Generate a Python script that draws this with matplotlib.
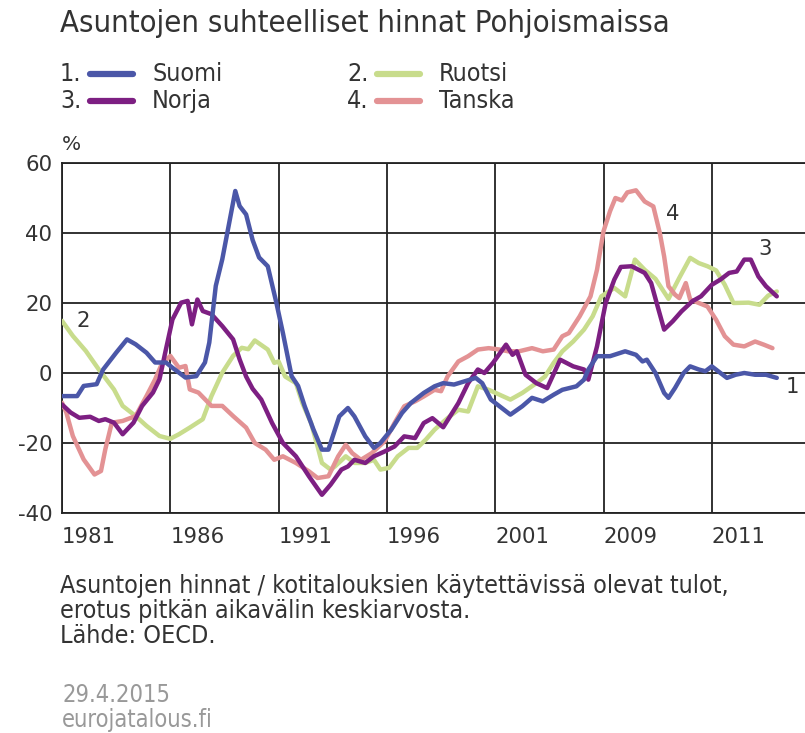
import matplotlib.pyplot as plt
from matplotlib.lines import Line2D

# Suomi (1)
fi_year = [1981.0, 1981.7, 1982.0, 1982.6, 1982.9, 1983.5, 1984.0, 1984.4, 1984.9, 1985.3,
           1985.8, 1986.1, 1986.7, 1987.2, 1987.6, 1987.8, 1988.1, 1988.4, 1989.0, 1989.2,
           1989.5, 1989.8, 1990.1, 1990.5, 1990.9, 1991.2, 1991.6, 1991.9, 1992.2, 1992.6,
           1993.0, 1993.3, 1993.8, 1994.2, 1994.5, 1995.0, 1995.4, 1995.7, 1996.2, 1996.7,
           1997.1, 1997.7, 1998.2, 1998.6, 1999.1, 2000.1, 2000.4, 2000.8, 2001.7, 2002.25,
           2002.7, 2003.2, 2003.7, 2004.1, 2004.75, 2005.1, 2005.3, 2005.7, 2006.3, 2007.0,
           2007.5, 2007.8, 2008.0, 2008.4, 2008.8, 2009.0, 2009.3, 2009.7, 2010.0, 2010.4,
           2010.7, 2011.0, 2011.4, 2011.7, 2012.1, 2012.5, 2013.0, 2013.5, 2014.0]
fi_val = [-6.6, -6.6, -3.7, -3.2, 1.0, 5.8, 9.6, 8.2, 5.8, 3.0,
          3.0, 1.5, -1.3, -0.9, 3.0, 8.7, 24.9, 32.5, 52.0, 47.7,
          45.3, 38.0, 33.0, 30.5, 20.0, 11.4, -0.9, -3.7, -9.4, -16.0,
          -21.9, -21.9, -12.4, -10.0, -12.4, -18.1, -21.4, -20.0, -16.2, -11.4,
          -8.6, -5.7, -3.8, -2.9, -3.3, -1.4, -2.9, -7.6, -11.9, -9.5,
          -7.1, -8.1, -6.2, -4.8, -3.8, -1.9, 1.0, 4.8, 4.8, 6.2,
          5.2, 3.3, 3.8, 0.0, -5.7, -7.1, -4.3, 0.0, 1.9, 1.0,
          0.5, 1.9, 0.0, -1.4, -0.5, 0.0, -0.5, -0.5, -1.4]

# Ruotsi (2)
se_year = [1981.0, 1981.5, 1982.1, 1982.7, 1983.4, 1983.8, 1984.4, 1984.9, 1985.5, 1986.0,
           1986.4, 1986.9, 1987.5, 1987.9, 1988.4, 1988.9, 1989.3, 1989.6, 1989.9, 1990.2,
           1990.5, 1990.8, 1991.0, 1991.3, 1991.8, 1992.1, 1992.5, 1992.8, 1993.0, 1993.4,
           1993.6, 1994.1, 1994.5, 1995.0, 1995.4, 1995.7, 1996.1, 1996.5, 1997.0, 1997.4,
           1997.8, 1998.2, 1998.8, 1999.3, 1999.75, 2000.2, 2000.7, 2001.2, 2001.7, 2002.25,
           2002.9, 2003.3, 2003.7, 2004.1, 2004.6, 2005.1, 2005.5, 2005.9, 2006.5, 2007.0,
           2007.45, 2007.9, 2008.4, 2009.0, 2009.5, 2010.0, 2010.4, 2010.8, 2011.2, 2011.6,
           2012.0, 2012.7, 2013.2, 2013.6, 2014.0]
se_val = [14.9, 10.6, 6.3, 1.0, -4.7, -9.4, -12.3, -15.1, -18.0, -18.8,
          -17.5, -15.6, -13.2, -6.6, 0.1, 4.9, 7.2, 6.8, 9.3, 8.0,
          6.7, 2.9, 3.3, -1.0, -2.9, -8.6, -14.3, -21.0, -25.7, -27.6,
          -26.7, -23.8, -25.7, -25.7, -24.8, -27.6, -27.1, -23.8, -21.4, -21.4,
          -19.0, -16.2, -12.9, -10.5, -11.0, -3.8, -4.8, -6.2, -7.6, -5.7,
          -2.9, -1.0, 2.9, 6.2, 9.0, 12.4, 16.2, 21.9, 24.3, 21.9,
          32.4, 29.5, 26.9, 21.2, 27.2, 32.9, 31.4, 30.5, 29.3, 25.2,
          20.0, 20.1, 19.5, 22.1, 23.3]

# Norja (3)
no_year = [1981.0, 1981.4, 1981.8, 1982.3, 1982.7, 1983.0, 1983.4, 1983.8, 1984.3, 1984.7,
           1985.2, 1985.5, 1985.8, 1986.1, 1986.5, 1986.8, 1987.0, 1987.25, 1987.5, 1987.9,
           1988.4, 1988.9, 1989.2, 1989.5, 1989.8, 1990.2, 1990.7, 1991.2, 1991.8, 1992.4,
           1993.0, 1993.4, 1993.9, 1994.2, 1994.5, 1995.0, 1995.4, 1995.9, 1996.35, 1996.8,
           1997.3, 1997.7, 1998.1, 1998.6, 1999.3, 1999.75, 2000.2, 2000.5, 2000.9, 2001.5,
           2001.8, 2002.0, 2002.4, 2002.9, 2003.4, 2004.0, 2004.6, 2005.1, 2005.3, 2005.7,
           2006.1, 2006.5, 2006.8, 2007.3, 2007.9, 2008.2, 2008.5, 2008.8, 2009.2, 2009.6,
           2010.1, 2010.5, 2011.0, 2011.4, 2011.8, 2012.15, 2012.5, 2012.8, 2013.15, 2013.5,
           2014.0]
no_val = [-9.0, -11.3, -12.8, -12.5, -13.7, -13.2, -14.2, -17.5, -14.2, -9.4,
          -5.6, -1.8, 6.8, 15.3, 20.1, 20.6, 13.9, 21.0, 17.7, 16.8,
          13.4, 9.6, 3.9, -1.0, -4.5, -7.6, -14.3, -20.0, -23.8, -29.5,
          -34.8, -31.9, -27.6, -26.7, -24.8, -25.7, -23.8, -22.4, -21.0, -18.1,
          -18.6, -14.3, -12.9, -15.5, -8.6, -2.9, 1.0, 0.0, 2.9, 8.1,
          5.2, 6.2, -0.5, -2.9, -4.3, 3.8, 1.9, 1.0, -1.9, 7.6,
          20.0, 26.7, 30.3, 30.5, 28.6, 25.7, 19.0, 12.4, 14.8, 17.6,
          20.5, 21.9, 25.2, 26.7, 28.6, 29.0, 32.4, 32.4, 27.6, 24.8,
          21.9]

# Tanska (4)
dk_year = [1981.0, 1981.2, 1981.5, 1982.0, 1982.5, 1982.8, 1983.0, 1983.3, 1983.8, 1984.4,
           1984.9, 1985.3, 1985.6, 1986.0, 1986.4, 1986.7, 1986.9, 1987.3, 1987.9, 1988.4,
           1988.9, 1989.5, 1989.9, 1990.4, 1990.8, 1991.2, 1991.8, 1992.4, 1992.8, 1993.3,
           1993.75, 1994.1, 1994.4, 1994.8, 1995.3, 1995.9, 1996.35, 1996.8, 1997.3, 1997.7,
           1998.2, 1998.5, 1998.8, 1999.3, 1999.75, 2000.2, 2000.7, 2001.2, 2001.6, 2002.1,
           2002.7, 2003.2, 2003.7, 2004.1, 2004.4, 2004.9, 2005.4, 2005.7, 2006.0, 2006.3,
           2006.55, 2006.85, 2007.1, 2007.5, 2007.9, 2008.3, 2008.6, 2008.8, 2009.0, 2009.3,
           2009.5, 2009.8, 2010.0, 2010.4, 2010.8, 2011.2, 2011.6, 2012.0, 2012.5, 2013.0,
           2013.4, 2013.8]
dk_val = [-8.5, -11.3, -18.0, -24.7, -29.0, -28.0, -21.8, -14.2, -13.7, -12.3,
          -6.6, -1.8, 2.5, 4.9, 1.5, 2.0, -4.7, -5.6, -9.4, -9.4,
          -12.3, -15.6, -20.0, -21.9, -24.8, -23.8, -25.7, -28.1, -30.0, -29.5,
          -23.8, -20.5, -22.9, -24.8, -22.9, -19.5, -14.3, -9.5, -8.1, -6.7,
          -4.8, -5.2, -1.0, 3.3, 4.8, 6.7, 7.1, 6.7, 6.2, 6.2,
          7.1, 6.2, 6.7, 10.5, 11.4, 16.2, 21.9, 29.5, 40.5, 46.2,
          50.0, 49.3, 51.6, 52.2, 49.0, 47.6, 40.0, 33.3, 24.8, 22.4,
          21.4, 25.7, 21.0, 20.0, 19.0, 15.2, 10.5, 8.1, 7.6, 9.0,
          8.1, 7.1]

series = [
    ('1.', 'Suomi', fi_year, fi_val, '#4b57a8'),
    ('2.', 'Ruotsi', se_year, se_val, '#c8dc8c'),
    ('3.', 'Norja', no_year, no_val, '#7d1f82'),
    ('4.', 'Tanska', dk_year, dk_val, '#e39294'),
]

x_ticks = [1981, 1986, 1991, 1996, 2001, 2006, 2011]
x_labels = ['1981', '1986', '1991', '1996', '2001', '2009', '2011']
y_ticks = [-40, -20, 0, 20, 40, 60]
y_labels = ['-40', '-20', '0', '20', '40', '60']

txt = '#333333'
cond = dict(family='DejaVu Sans', stretch='condensed')

fig = plt.figure(figsize=(8.05, 7.33), dpi=100)
ax = fig.add_axes([62 / 805, 1 - 513 / 733, 743 / 805, 350 / 733])

# draw order: green, pink, purple, blue
for idx in [1, 3, 2, 0]:
    num, name, xs, ys, col = series[idx]
    ax.plot(xs, ys, color=col, lw=3.2, solid_capstyle='round', zorder=3)

ax.set_xlim(1981, 1981 + 743 / 21.66)
ax.set_ylim(-40, 60)
ax.set_xticks(x_ticks)
ax.set_xticklabels(x_labels, ha='left')
ax.set_yticks(y_ticks)
ax.set_yticklabels(y_labels)
ax.grid(True, color='#222222', lw=1.3)
ax.tick_params(length=0, labelsize=15.3, colors=txt)
ax.tick_params(axis='x', pad=10)
ax.tick_params(axis='y', pad=7)
for lab in ax.get_xticklabels():
    lab.set_x(lab.get_position()[0] - 0.12)
ax.spines['right'].set_visible(False)
for s in ['left', 'bottom', 'top']:
    ax.spines[s].set_color('#222222')
    ax.spines[s].set_linewidth(1.3)

ax.text(1982.0, 14.9, '2', fontsize=15.3, color=txt, ha='center', va='center')
ax.text(2009.2, 45.4, '4', fontsize=15.3, color=txt, ha='center', va='center')
ax.text(2013.45, 35.4, '3', fontsize=15.3, color=txt, ha='center', va='center')
ax.text(2014.7, -4.0, '1', fontsize=15.3, color=txt, ha='center', va='center')

fig.text(62 / 805, 1 - 145 / 733, '%', fontsize=14.5, color=txt, va='center')

fig.text(60 / 805, 1 - 24 / 733, 'Asuntojen suhteelliset hinnat Pohjoismaissa',
         fontsize=22.2, color=txt, va='center', **cond)

# legend, two columns
for i, (num, name, xs, ys, col) in enumerate(series):
    cx = [60, 347][i % 2]
    cy = [74, 101][i // 2]
    fy = 1 - cy / 733
    fig.text(cx / 805, fy, num, fontsize=18, color=txt, va='center', **cond)
    fig.add_artist(Line2D([(cx + 30) / 805, (cx + 73) / 805], [fy, fy], color=col,
                          lw=4.5, solid_capstyle='round'))
    fig.text((cx + 92) / 805, fy, name, fontsize=18, color=txt, va='center', **cond)

notes = ['Asuntojen hinnat / kotitalouksien käytettävissä olevat tulot,',
         'erotus pitkän aikavälin keskiarvosta.',
         'Lähde: OECD.']
for k, line in enumerate(notes):
    fig.text(60 / 805, 1 - (586 + 25 * k) / 733, line, fontsize=18, color=txt,
             va='center', **cond)
fig.text(62 / 805, 1 - 695 / 733, '29.4.2015', fontsize=17, color='#999999', va='center', **cond)
fig.text(62 / 805, 1 - 720 / 733, 'eurojatalous.fi', fontsize=17, color='#999999', va='center', **cond)

fig.savefig('out.png', dpi=100)
